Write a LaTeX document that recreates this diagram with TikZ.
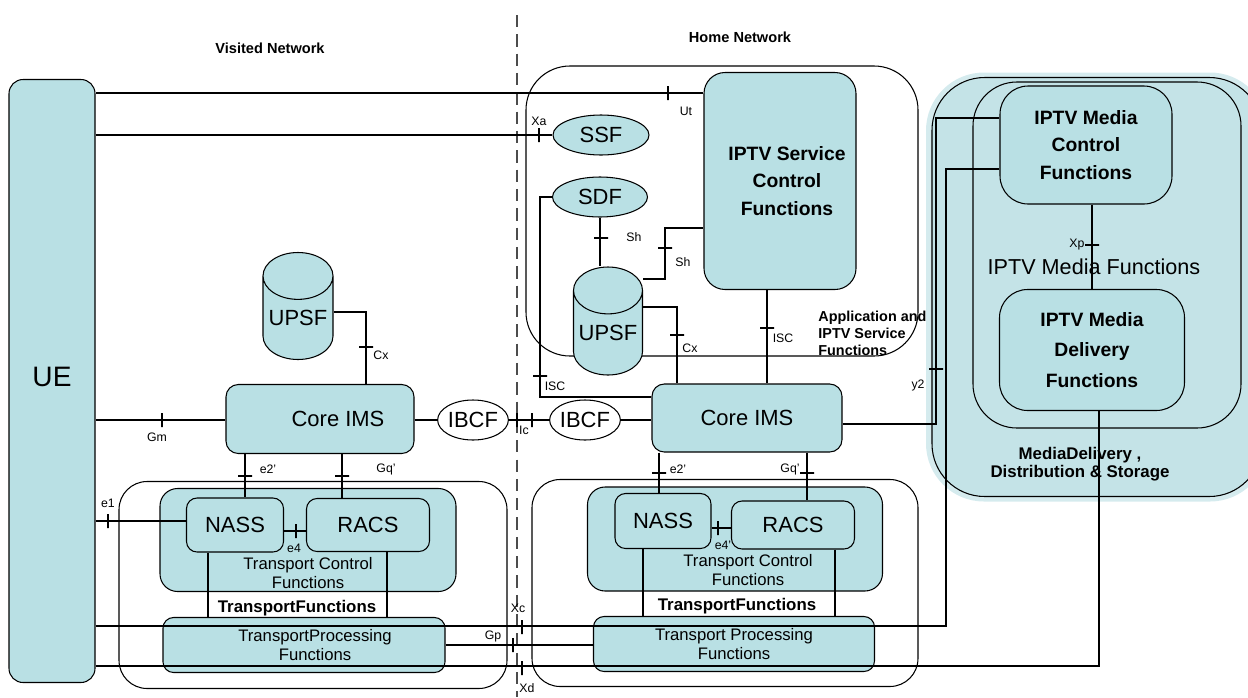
\documentclass[tikz,border=0pt]{standalone}
\usepackage{fontspec}
\setmainfont{Liberation Sans}
\usetikzlibrary{shapes.geometric}
\definecolor{boxc}{RGB}{185,224,228}
\definecolor{mdin}{RGB}{196,227,231}
\definecolor{mdout}{RGB}{213,235,238}
\newcommand{\lblfont}{\fontsize{7}{8}\selectfont}
\newcommand{\boxfont}{\fontsize{12.5}{14}\selectfont}
\newcommand{\uefont}{\fontsize{16}{18}\selectfont}
\newcommand{\mfont}{\fontsize{11}{15.5}\selectfont\bfseries}
\newcommand{\bigfont}{\fontsize{12.3}{14}\selectfont}
\newcommand{\hdrfont}{\fontsize{8.3}{10}\selectfont\bfseries}
\newcommand{\appfont}{\fontsize{8.2}{9.7}\selectfont\bfseries}
\newcommand{\trfont}{\fontsize{9.5}{10.5}\selectfont}
\newcommand{\trbfont}{\fontsize{9.6}{11}\selectfont\bfseries}
\tikzset{
	box/.style={draw,fill=boxc,rounded corners=7pt,inner sep=0pt,align=center},
	grp/.style={draw,rounded corners=16pt,inner sep=0pt},
	elp/.style={draw,ellipse,inner sep=0pt},
	cyl/.style={draw,cylinder,shape border rotate=90,aspect=0.8,fill=boxc,inner sep=0pt,anchor=shape center},
	sz/.style 2 args={minimum width=#1*0.02cm,minimum height=#2*0.02cm},
	tk/.style={draw,inner sep=0pt,minimum width=0pt,minimum height=0.28cm},
	tkh/.style={draw,inner sep=0pt,minimum width=0.28cm,minimum height=0pt},
	lbl/.style={inner sep=0pt,font=\lblfont}
}

\begin{document}
\begin{tikzpicture}[x=0.02cm,y=-0.02cm,line width=0.6pt]
\useasboundingbox (0,0) rectangle (1248,697);
\node[grp,fill=mdout,draw=none,rounded corners=33pt,sz={342}{429}] (mdg) at (1097,287) {};
\node[grp,fill=mdin,rounded corners=30pt,sz={330}{419}] (mds) at (1097,287) {};
\node[grp,fill=mdin,rounded corners=25pt,sz={268}{346}] (mdf) at (1107,255) {};
\node[box,rounded corners=16pt,sz={172}{118},font=\mfont] (imcf) at (1086,145) {IPTV Media\\Control\\Functions};
\node[box,rounded corners=16pt,sz={185}{121},font=\fontsize{11}{17.5}\selectfont\bfseries] (imdf) at (1092,350) {IPTV Media\\Delivery\\Functions};
\node[font=\bigfont] (mfl) at (1094,267) {IPTV Media Functions};
\node[font=\fontsize{9.6}{10}\selectfont\bfseries,align=center] (mdl) at (1080,464) {MediaDelivery ,\\Distribution \& Storage};

\node[grp,rounded corners=25pt,sz={392}{290}] (app) at (722,211) {};
\node[box,rounded corners=12pt,sz={152}{217},font=\mfont] (scf) at (780,181) {\hspace*{0.28cm}IPTV Service\\\hspace*{0.28cm}Control\\\hspace*{0.28cm}Functions};
\node[elp,fill=boxc,sz={96}{40},font=\boxfont] (ssf) at (601,135) {SSF};
\node[elp,fill=boxc,sz={95}{40},font=\boxfont] (sdf) at (600,197) {SDF};
\node[cyl,sz={69}{108},font=\boxfont] (upsfh) at (608,321) {UPSF};
\node[font=\appfont,align=left,anchor=west] (appl) at (812,333) {Application and\\IPTV Service\\Functions};

\node[box,sz={190}{68},font=\boxfont] (cimsh) at (747,418) {Core IMS};
\node[elp,fill=white,sz={66}{40},font=\boxfont] (ibcfh) at (585,420) {IBCF};
\node[elp,fill=white,sz={68}{40},font=\boxfont] (ibcfv) at (473,420) {IBCF};
\node[box,sz={188}{69},font=\boxfont] (cimsv) at (320,419) {\hspace*{0.72cm}Core IMS};
\node[cyl,sz={70}{107},font=\boxfont] (upsfv) at (298,306) {UPSF};
\node[box,rounded corners=8pt,sz={86}{603},font=\uefont] (ue) at (52,381) {\raisebox{0.18cm}{UE}};

\node[grp,sz={388}{207}] (trv) at (313,585) {};
\node[box,rounded corners=10pt,sz={296}{103}] (tcfv) at (308,540) {};
\node[font=\trfont,align=center] (tcfvl) at (308,573) {Transport Control\\Functions};
\node[box,rounded corners=6pt,sz={97}{54},font=\boxfont] (nassv) at (235,525) {NASS};
\node[box,rounded corners=6pt,sz={123}{53},font=\boxfont] (racsv) at (368,525) {RACS};
\node[box,rounded corners=6pt,sz={282}{55},font=\trfont] (tpfv) at (304,645) {\hspace*{0.44cm}TransportProcessing\\\hspace*{0.44cm}Functions};
\node[font=\trbfont] (trfv) at (297,608) {TransportFunctions};

\node[grp,sz={386}{207}] (trh) at (725,583) {};
\node[box,rounded corners=10pt,sz={295}{104}] (tcfh) at (735,539) {};
\node[font=\trfont,align=center] (tcfhl) at (748,570) {Transport Control\\Functions};
\node[box,rounded corners=6pt,sz={96}{55},font=\boxfont] (nassh) at (663,521) {NASS};
\node[box,rounded corners=6pt,sz={123}{48},font=\boxfont] (racsh) at (793,525) {RACS};
\node[box,rounded corners=6pt,sz={281}{55},font=\trfont] (tpfh) at (734,644) {Transport Processing\\Functions};
\node[font=\trbfont] (trfh) at (737,606) {TransportFunctions};

\node[font=\hdrfont] (vis) at (270,48) {Visited Network};
\node[font=\hdrfont] (home) at (740,37) {Home Network};
\draw[draw=black!70,dash pattern=on 7pt off 4pt] (517,15) -- (517,697);

\draw (ue.east|-0,93) -- (scf.west|-0,93);
\draw (ue.east|-0,135) -- (ssf.west);
\draw (sdf.west) -| (540,397) -- (cimsh.west|-0,397);
\draw (sdf.south) -- (sdf.south|-upsfh.north);
\draw (upsfh.east|-0,279) -| (665,228) -- (scf.west|-0,228);
\draw (upsfh.east|-0,307) -| (cimsh.north-|677,0);
\draw (scf.south-|767,0) -- (cimsh.north-|767,0);
\draw (ue.east|-0,420) -- (cimsv.west|-0,420);
\draw (upsfv.east|-0,312) -| (cimsv.north-|366,0);
\draw (cimsv.east|-ibcfv.west) -- (ibcfv.west);
\draw (ibcfv.east) -- (ibcfh.west);
\draw (ibcfh.east) -- (cimsh.west|-ibcfh.east);
\draw (cimsh.east|-0,424) -| (936,118) -- (imcf.west|-0,118);
\draw (imcf.south-|1092,0) -- (imdf.north-|1092,0);
\draw (ue.east|-0,521) -- (nassv.west|-0,521);
\draw (cimsv.south-|245,0) -- (nassv.north-|245,0);
\draw (cimsv.south-|342,0) -- (racsv.north-|342,0);
\draw (nassv.east|-0,531) -- (racsv.west|-0,531);
\draw (nassv.south-|208,0) -- (tpfv.north-|208,0);
\draw (racsv.south-|387,0) -- (tpfv.north-|387,0);
\draw (cimsh.south-|659,0) -- (nassh.north-|659,0);
\draw (cimsh.south-|807,0) -- (racsh.north-|807,0);
\draw (nassh.east|-0,528) -- (racsh.west|-0,528);
\draw (nassh.south-|643,0) -- (tpfh.north-|643,0);
\draw (racsh.south-|835,0) -- (tpfh.north-|835,0);
\draw (tpfv.east) -- (tpfh.west|-tpfv.east);
\draw (ue.east|-0,626) -| (946,169) -- (imcf.west|-0,169);
\draw (ue.east|-0,666) -| (imdf.south-|1099,0);

\node[tk] (tut) at (668,93) {};
\node[tk] (txa) at (539,135) {};
\node[tk] (tgm) at (162,420) {};
\node[tk] (te1) at (108,521) {};
\node[tk] (te4) at (296,531) {};
\node[tk] (te4h) at (718,528) {};
\node[tk] (tic1) at (517,420) {};
\node[tk] (tic2) at (532,420) {};
\node[tk] (tgp) at (513,645) {};
\node[tk] (txc) at (522,627) {};
\node[tk] (txd) at (522,668) {};
\node[tkh] (tsh1) at (601,238) {};
\node[tkh] (tsh2) at (665,248) {};
\node[tkh] (tcxh) at (677,335) {};
\node[tkh] (tisch) at (767,328) {};
\node[tkh] (tiscs) at (540,376) {};
\node[tkh] (tcxv) at (366,347) {};
\node[tkh] (te2v) at (245,476) {};
\node[tkh] (tgqv) at (342,476) {};
\node[tkh] (te2h) at (659,473) {};
\node[tkh] (tgqh) at (807,473) {};
\node[tkh] (ty2) at (936,369) {};
\node[tkh] (txp) at (1092,245) {};

\node[lbl] (lut) at (686,111) {Ut};
\node[lbl] (lxa) at (539,121) {Xa};
\node[lbl] (lsh1) at (634,237) {Sh};
\node[lbl] (lsh2) at (683,262) {Sh};
\node[lbl] (lcxh) at (690,348) {Cx};
\node[lbl] (lisch) at (783,338) {ISC};
\node[lbl] (liscs) at (555,386) {ISC};
\node[lbl] (lic) at (524,430) {Ic};
\node[lbl] (lgm) at (157,437) {Gm};
\node[lbl] (lcxv) at (381,355) {Cx};
\node[lbl] (ly2) at (918,385) {y2};
\node[lbl] (lxc) at (518,608) {Xc};
\node[lbl] (lxd) at (527,688) {Xd};
\node[lbl] (lgp) at (493,636) {Gp};
\node[lbl] (le1) at (108,503) {e1};
\node[lbl] (le2v) at (268,469) {e2'};
\node[lbl] (lgqv) at (386,469) {Gq'};
\node[lbl] (le4) at (294,548) {e4};
\node[lbl] (le2h) at (678,469) {e2'};
\node[lbl] (lgqh) at (790,469) {Gq'};
\node[lbl] (le4h) at (723,545) {e4'};
\node[lbl] (lxp) at (1077,245) {Xp};
\end{tikzpicture}
\end{document}
